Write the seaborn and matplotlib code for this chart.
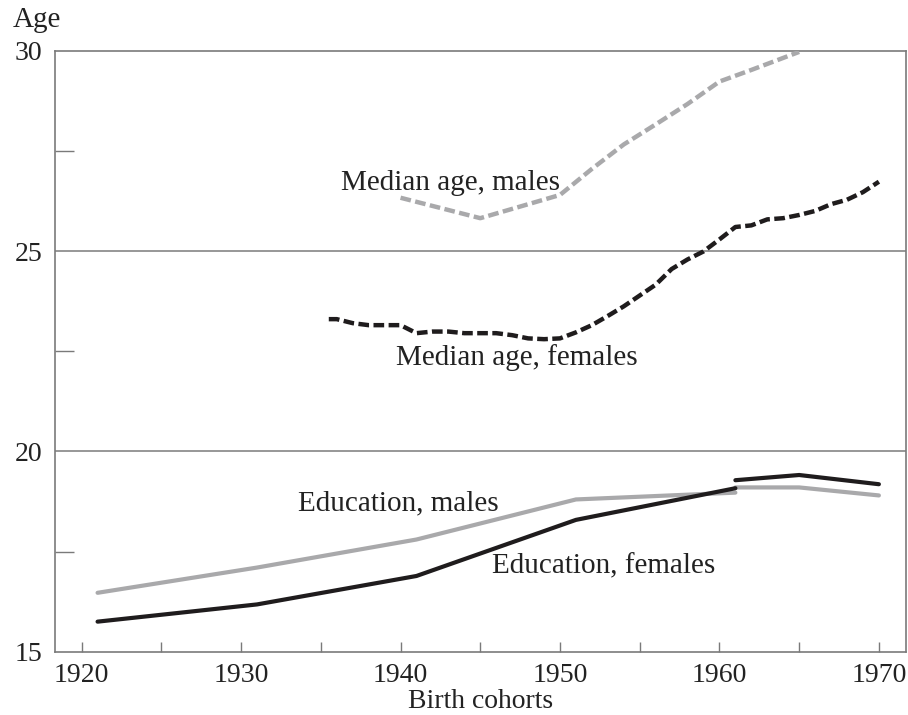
import matplotlib
matplotlib.use("Agg")
import matplotlib.pyplot as plt
import seaborn as sns
import pandas as pd
from matplotlib.ticker import MultipleLocator

# ---- data ----
edu_years = [1921, 1931, 1941, 1951, 1961]
edu_males = [16.47, 17.10, 17.80, 18.80, 18.97]
edu_females = [15.75, 16.18, 16.89, 18.29, 19.08]

edu2_years = [1961, 1965, 1970]
edu2_males = [19.10, 19.10, 18.90]
edu2_females = [19.28, 19.41, 19.18]

med_m_years = [1940, 1945, 1950, 1952, 1954, 1956, 1958, 1960, 1962, 1965]
med_m_values = [26.33, 25.82, 26.40, 27.05, 27.66, 28.16, 28.67, 29.23, 29.52, 29.97]

med_f_years = [1935.5, 1936, 1937, 1938, 1939, 1940, 1941, 1942, 1943, 1944, 1945,
               1946, 1947, 1948, 1949, 1950, 1951, 1952, 1953, 1954, 1955, 1956,
               1957, 1958, 1959, 1960, 1961, 1962, 1963, 1964, 1965, 1966, 1967,
               1968, 1969, 1970]
med_f_values = [23.30, 23.30, 23.20, 23.15, 23.15, 23.15, 22.95, 22.99, 22.99, 22.95, 22.95,
                22.95, 22.90, 22.82, 22.80, 22.82, 22.97, 23.15, 23.38, 23.62, 23.89, 24.16,
                24.55, 24.79, 24.99, 25.29, 25.60, 25.64, 25.79, 25.82, 25.90, 26.00, 26.17,
                26.28, 26.47, 26.73]

x_ticks_labelled = [1920, 1930, 1940, 1950, 1960, 1970]
y_ticks_labelled = [15, 20, 25, 30]

labels = {
    "Median age, males": (1936.25, 26.70),
    "Median age, females": (1939.7, 22.33),
    "Education, males": (1933.6, 18.71),
    "Education, females": (1945.75, 17.14),
}

# ---- style ----
sns.set_theme(style="white")
plt.rcParams["font.family"] = ["Liberation Serif", "DejaVu Serif"]

GRAY = "#a9a9ab"
BLACK = "#1f1c1d"
AXC = "#7a7a7a"
TXT = "#222222"

fig = plt.figure(figsize=(9.08, 7.15), dpi=100)
ax = fig.add_axes([55 / 908, 1 - 651.7 / 715, (906 - 55) / 908, (651.7 - 50.7) / 715])

def draw(xs, ys, color, lw, ls="-"):
    df = pd.DataFrame({"x": xs, "y": ys})
    sns.lineplot(data=df, x="x", y="y", ax=ax, color=color, linewidth=lw,
                 linestyle=ls, estimator=None, sort=False, legend=False,
                 solid_joinstyle="miter", dash_capstyle="butt", zorder=3)

dash = (0, (2.4, 1.0))
draw(edu_years, edu_males, GRAY, 3.0)
draw(edu2_years, edu2_males, GRAY, 3.0)
draw(edu_years, edu_females, BLACK, 3.0)
draw(edu2_years, edu2_females, BLACK, 3.0)
draw(med_m_years, med_m_values, GRAY, 3.2, dash)
draw(med_f_years, med_f_values, BLACK, 3.2, dash)

for txt, (x, y) in labels.items():
    ax.text(x, y, txt, fontsize=21, color=TXT, ha="left", va="center", zorder=4)

ax.set_xlim(1918.33, 1971.7)
ax.set_ylim(15, 30)

ax.set_xticks(x_ticks_labelled)
ax.set_xticklabels([str(v) for v in x_ticks_labelled])
ax.xaxis.set_minor_locator(MultipleLocator(5))
ax.set_yticks(y_ticks_labelled)
ax.set_yticklabels([str(v) for v in y_ticks_labelled])
ax.yaxis.set_minor_locator(MultipleLocator(2.5))

ax.tick_params(axis="x", which="both", direction="in", length=7.5, width=1.0,
               color=AXC, labelsize=20, pad=8, bottom=True, top=False,
               labelcolor=TXT)
ax.tick_params(axis="y", which="major", length=0, labelsize=20, pad=9,
               labelcolor=TXT, left=False)
ax.tick_params(axis="y", which="minor", direction="in", length=14, width=1.0,
               color=AXC, left=True, right=False)

for y in [20, 25]:
    ax.axhline(y, color=AXC, linewidth=1.1, zorder=1)

for s in ["left", "bottom", "right", "top"]:
    ax.spines[s].set_visible(True)
    ax.spines[s].set_color(AXC)
    ax.spines[s].set_linewidth(1.2)

ax.set_xlabel("")
ax.set_ylabel("")
fig.text(480.5 / 908, 1 - 702 / 715, "Birth cohorts", fontsize=20, color=TXT,
         ha="center", va="center")
fig.text(13 / 908, 1 - 20 / 715, "Age", fontsize=21, color=TXT,
         ha="left", va="center")

fig.savefig("out.png", dpi=100, facecolor="white")
